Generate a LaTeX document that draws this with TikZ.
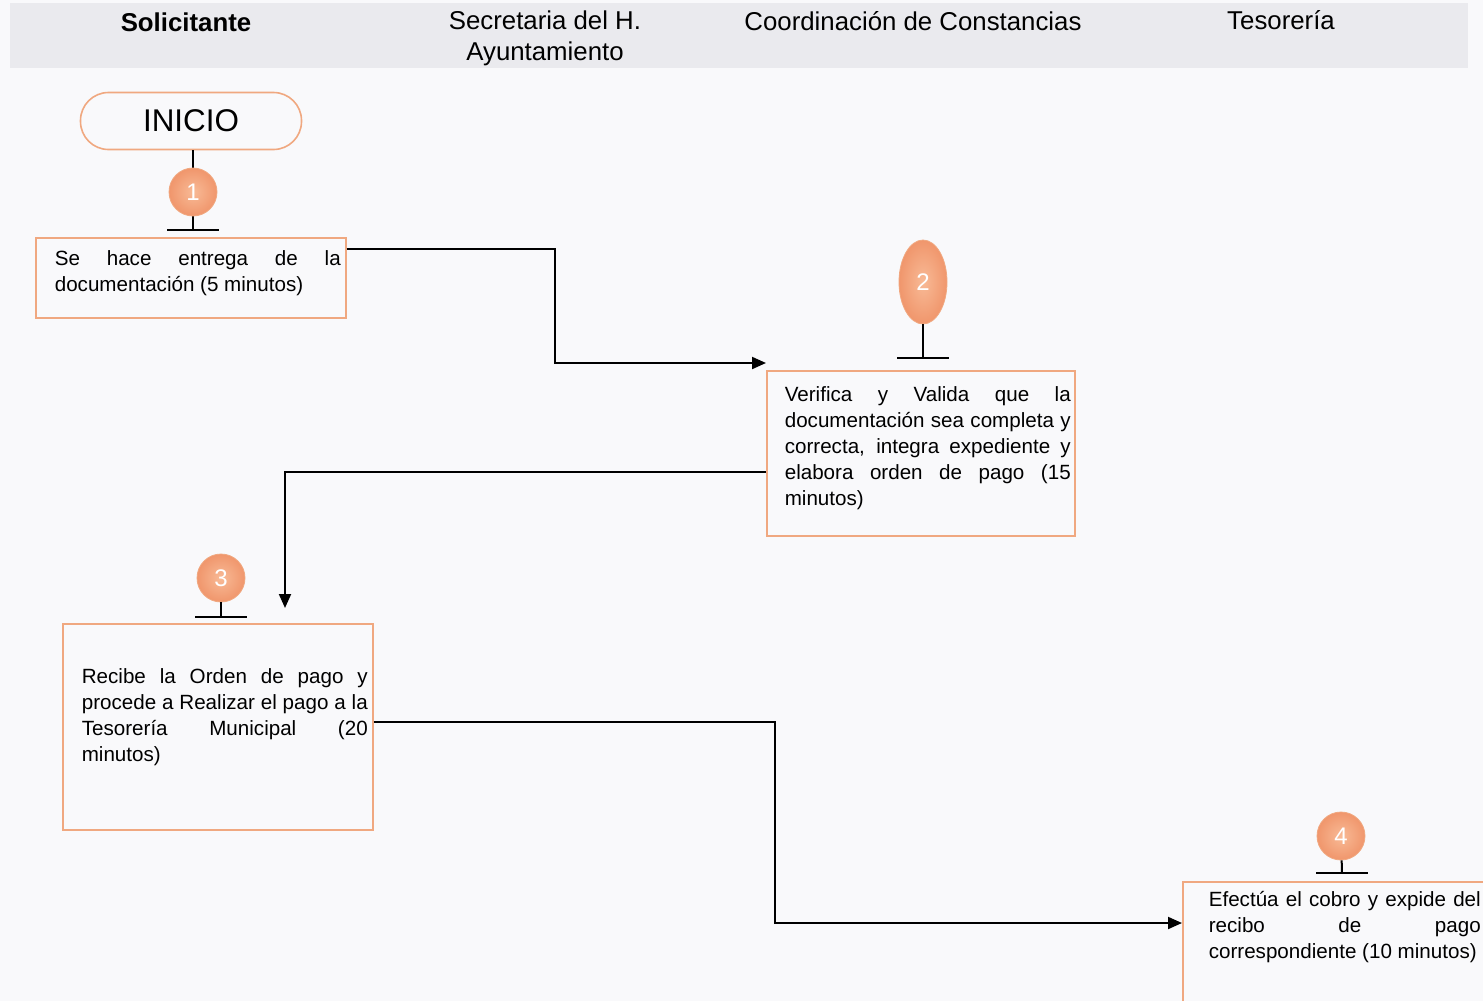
\documentclass[tikz,border=0pt]{standalone}
\usepackage{fontspec}
\setmainfont{Liberation Sans}
\usetikzlibrary{arrows.meta,shapes.geometric}
\definecolor{borde}{RGB}{240,168,128}
\definecolor{naranja}{RGB}{240,150,108}
\definecolor{naranjaclaro}{RGB}{248,186,150}
\definecolor{banda}{RGB}{234,234,238}
\definecolor{fondo}{RGB}{249,249,251}
\hyphenpenalty=10000
\exhyphenpenalty=10000
\tolerance=9999
\begin{document}
\begin{tikzpicture}[x=0.5pt,y=-0.5pt,
  caja/.style={draw=borde,line width=0.8pt,anchor=north west,text width=143pt,align=justify,minimum width=155pt,inner sep=5pt,font=\fontsize{10.3}{13}\selectfont,execute at begin node={\leftskip=3.5pt\rightskip=-3.5pt}},
  paso/.style={circle,inner color=naranjaclaro,outer color=naranja,draw=borde,minimum size=24pt,inner sep=0pt,text=white,font=\fontsize{12}{14}\selectfont},
  titulo/.style={font=\fontsize{12.9}{15.5}\selectfont,align=center},
  flecha/.style={line width=1pt,-{Triangle[length=7pt,width=6pt]}},
  linea/.style={line width=1pt}]
\useasboundingbox (0,0) rectangle (1483,1001);
\clip (0,0) rectangle (1483,1001);
\fill[fondo] (0,0) rectangle (1483,1001);
\fill[banda] (10,3) rectangle (1468,68);
\node[titulo] (sol) at (186,22) {\bfseries Solicitante};
\node[titulo] (sec) at (545,38) {Secretaria del H.\\Ayuntamiento};
\node[titulo] (coo) at (913,21) {Coordinación de Constancias};
\node[titulo] (tes) at (1281,20) {Tesorería};
\node[draw=borde,line width=0.8pt,rounded corners=14pt,minimum width=110.5pt,minimum height=28.5pt,font=\fontsize{15.7}{18}\selectfont] (inicio) at (191,121) {INICIO};
\coordinate (t1) at (193,230);
\draw[linea] (inicio.south -| t1) -- (t1);
\draw[linea] ([xshift=-13pt]t1) -- ([xshift=13pt]t1);
\node[paso] (p1) at (193,192) {1};
\node[caja,minimum height=40pt,text depth=19.5pt] (c1) at (35,237) {Se hace entrega de la documentación (5 minutos)};
\node[paso,ellipse,minimum width=24pt,minimum height=42pt] (p2) at (923,282) {2};
\coordinate (t2) at (923,358);
\draw[linea] (p2) -- (t2);
\draw[linea] ([xshift=-13pt]t2) -- ([xshift=13pt]t2);
\node[caja,minimum width=154pt,minimum height=82.5pt,text depth=59.5pt] (c2) at (766,370) {Verifica y Valida que la\linebreak documentación sea completa y\linebreak correcta, integra expediente y\linebreak elabora orden de pago (15 minutos)};
\node[paso] (p3) at (221,578) {3};
\coordinate (t3) at (221,617);
\draw[linea] (p3) -- (t3);
\draw[linea] ([xshift=-13pt]t3) -- ([xshift=13pt]t3);
\node[caja,minimum height=103pt,text depth=51pt] (c3) at (62,623) {Recibe la Orden de pago y\linebreak procede a Realizar el pago a la\linebreak Tesorería Municipal (20 minutos)};
\node[paso] (p4) at (1341,836) {4};
\coordinate (t4) at (1342,873);
\draw[linea] (p4) -- (t4);
\draw[linea] ([xshift=-13pt]t4) -- ([xshift=13pt]t4);
\node[caja,text width=136pt,text depth=70pt] (c4) at (1182,881) {Efectúa el cobro y expide del\linebreak recibo de pago\linebreak correspondiente (10 minutos)};
\draw[flecha] ([yshift=-6pt]c1.north east) -| (555,363) -- ([yshift=3.5pt]c2.north west);
\draw[flecha] ([yshift=-9.25pt]c2.west) -| ([shift={(111.5pt,7.5pt)}]c3.north west);
\draw[flecha] ([yshift=2.5pt]c3.east) -| (775,923) -- ([yshift=-21pt]c4.north west);
\end{tikzpicture}
\end{document}
